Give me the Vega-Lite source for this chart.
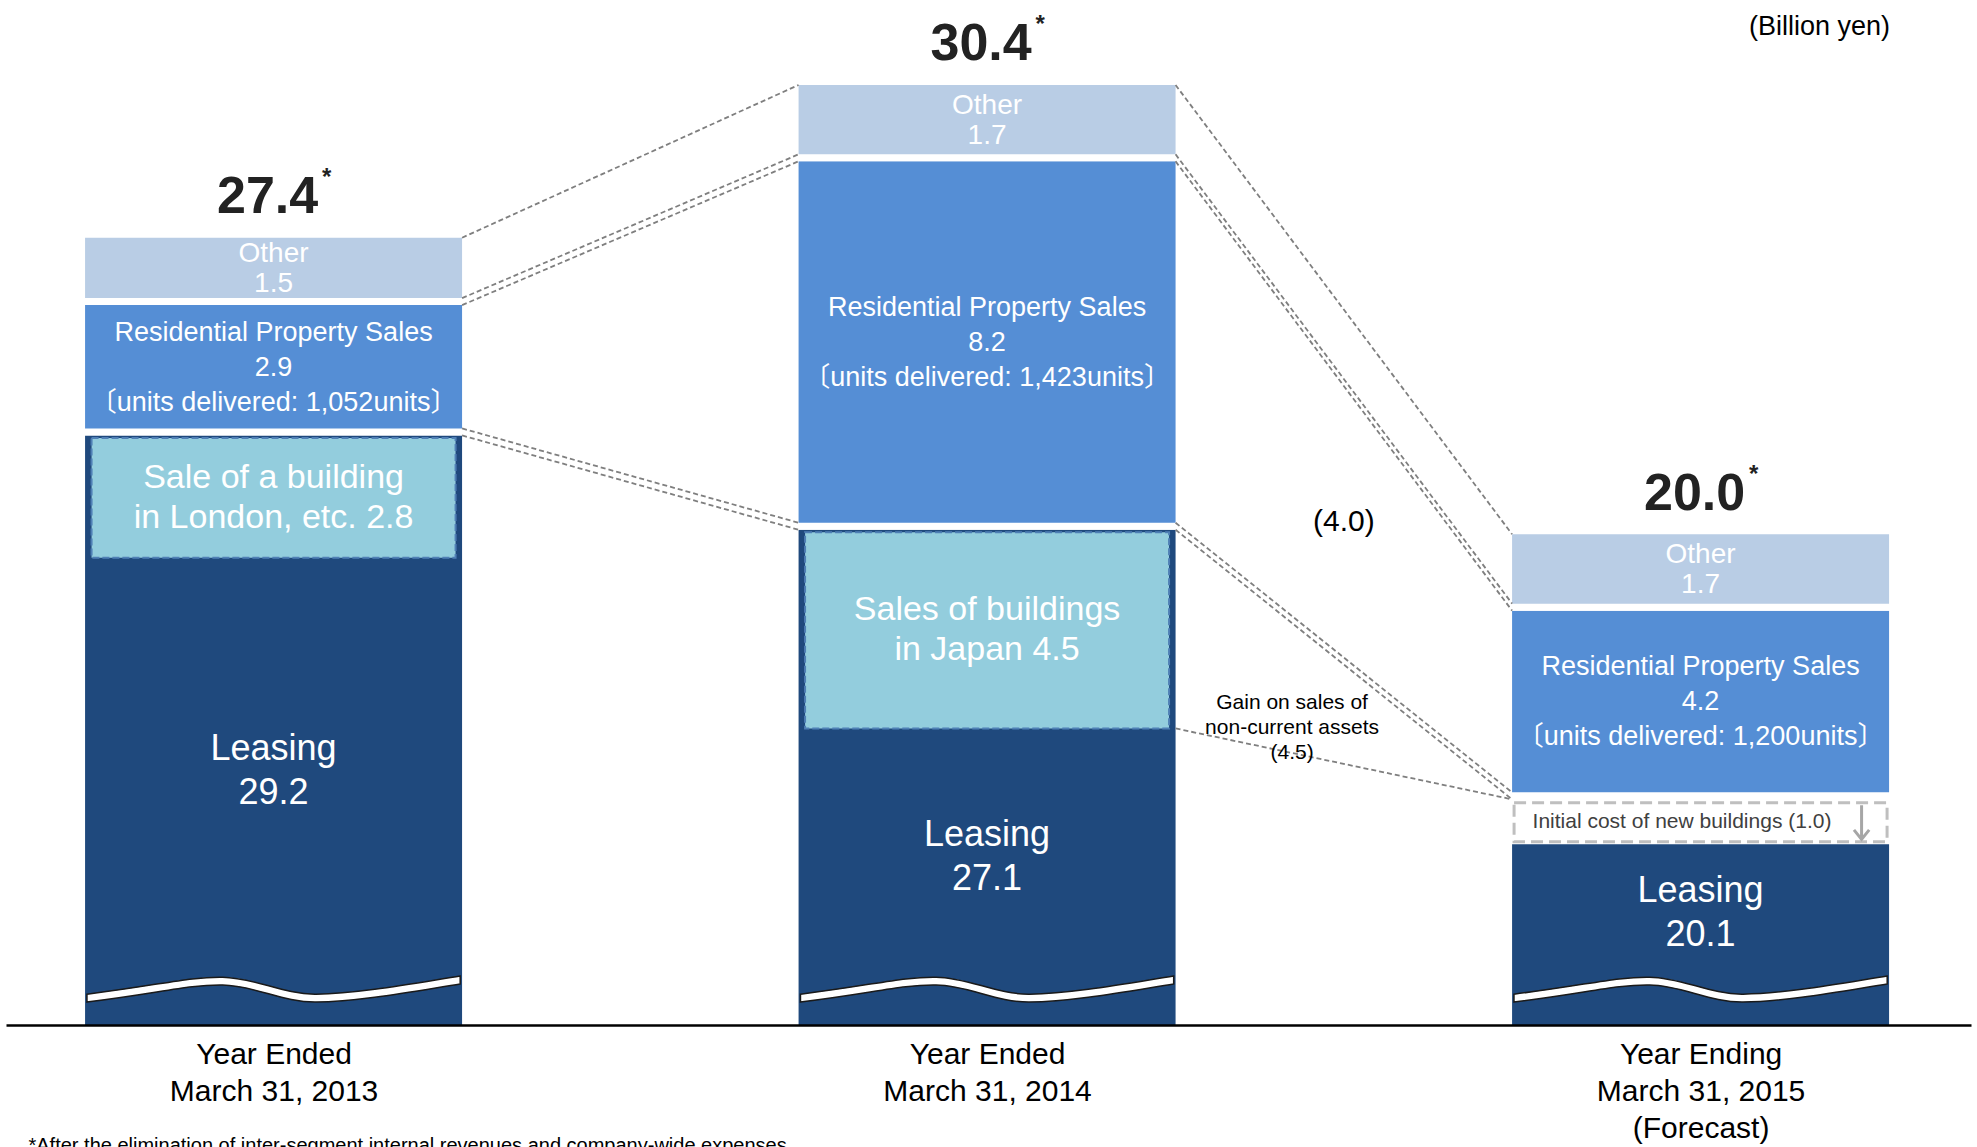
{
  "$schema": "https://vega.github.io/schema/vega-lite/v6.json",
  "width": 1965,
  "height": 975,
  "autosize": {"type": "none"},
  "padding": {"left": 6, "right": 6, "top": 50, "bottom": 122},
  "background": "white",
  "config": {
    "view": {"stroke": null},
    "font": "Liberation Sans",
    "text": {"font": "Liberation Sans, Noto Sans CJK JP"}
  },
  "title": {
    "text": "(Billion yen)",
    "orient": "top",
    "anchor": "end",
    "font": "Liberation Sans",
    "fontSize": 27,
    "fontWeight": "normal",
    "color": "#000000",
    "dx": -81,
    "dy": 40,
    "offset": 12
  },
  "datasets": {
    "segments": [
      {"fy": 2013, "segment": "Leasing", "value": 29.2, "building_sales": 2.8, "building_label": "Sale of a building\nin London, etc."},
      {"fy": 2013, "segment": "Residential Property Sales", "value": 2.9, "units": 1052},
      {"fy": 2013, "segment": "Other", "value": 1.5},
      {"fy": 2014, "segment": "Leasing", "value": 27.1, "building_sales": 4.5, "building_label": "Sales of buildings\nin Japan"},
      {"fy": 2014, "segment": "Residential Property Sales", "value": 8.2, "units": 1423},
      {"fy": 2014, "segment": "Other", "value": 1.7},
      {"fy": 2015, "segment": "Leasing", "value": 20.1},
      {"fy": 2015, "segment": "Initial cost of new buildings", "value": 1.0},
      {"fy": 2015, "segment": "Residential Property Sales", "value": 4.2, "units": 1200},
      {"fy": 2015, "segment": "Other", "value": 1.7}
    ],
    "totals": [
      {"fy": 2013, "total": 27.4},
      {"fy": 2014, "total": 30.4},
      {"fy": 2015, "total": 20.0}
    ]
  },
  "data": {"name": "segments"},
  "transform": [
    {"calculate": "indexof(['Leasing', 'Initial cost of new buildings', 'Residential Property Sales', 'Other'], datum.segment)", "as": "rank"},
    {"window": [{"op": "sum", "field": "value", "as": "top"}], "groupby": ["fy"], "sort": [{"field": "rank"}], "frame": [null, 0]},
    {"calculate": "datum.top - datum.value", "as": "bottom"},
    {"calculate": "(datum.top + datum.bottom) / 2", "as": "mid"}
  ],
  "encoding": {
    "x": {
      "field": "fy",
      "type": "quantitative",
      "scale": {"domain": [2012.632, 2015.372], "nice": false, "zero": false},
      "axis": {
        "values": [2013, 2014, 2015],
        "labelExpr": "datum.value === 2015 ? ['Year Ending', 'March 31, 2015', '(Forecast)'] : ['Year Ended', 'March 31, ' + datum.value]",
        "ticks": false,
        "grid": false,
        "zindex": 1,
        "domainColor": "#000000",
        "domainWidth": 2.5,
        "labelFont": "Liberation Sans",
        "labelFontSize": 30,
        "labelColor": "#000000",
        "labelLineHeight": 37,
        "labelPadding": 14,
        "labelBaseline": "top",
        "labelLimit": 0,
        "labelOverlap": false,
        "labelBound": false,
        "labelFlush": false,
        "title": "*After the elimination of inter-segment internal revenues and company-wide expenses",
        "titleFont": "Liberation Sans",
        "titleFontSize": 20,
        "titleFontWeight": "normal",
        "titleColor": "#000000",
        "titleAlign": "left",
        "titleAnchor": "start",
        "titleBaseline": "top",
        "titleLimit": 0,
        "titleX": 22,
        "titleY": 110
      }
    }
  },
  "layer": [
    {
      "transform": [{"filter": "datum.segment !== 'Initial cost of new buildings'"}],
      "mark": {"type": "bar", "size": 384, "stroke": "white", "strokeWidth": 7, "clip": true},
      "encoding": {
        "y": {"field": "top", "type": "quantitative", "scale": {"domain": [16, 37.7], "nice": false, "zero": false}, "axis": null},
        "y2": {"field": "bottom"},
        "color": {
          "field": "segment",
          "type": "nominal",
          "scale": {"domain": ["Other", "Residential Property Sales", "Leasing"], "range": ["#B9CDE5", "#558ED5", "#1F497D"]},
          "legend": null
        }
      }
    },
    {
      "transform": [{"filter": "datum.segment === 'Initial cost of new buildings'"}],
      "mark": {"type": "bar", "size": 373, "fill": "white", "stroke": "#BFBFBF", "strokeWidth": 3, "strokeDash": [12, 6], "yOffset": 7, "y2Offset": 1},
      "encoding": {
        "y": {"field": "top", "type": "quantitative", "scale": {"domain": [16, 37.7], "nice": false, "zero": false}, "axis": null},
        "y2": {"field": "bottom"}
      }
    },
    {
      "transform": [
        {"filter": "isValid(datum.building_sales)"},
        {"calculate": "datum.top - datum.building_sales", "as": "sales_bottom"}
      ],
      "mark": {"type": "bar", "size": 364, "fill": "#93CDDD", "stroke": "#4F7FB5", "strokeWidth": 2, "strokeDash": [7, 3], "yOffset": 6},
      "encoding": {
        "y": {"field": "top", "type": "quantitative", "scale": {"domain": [16, 37.7], "nice": false, "zero": false}, "axis": null},
        "y2": {"field": "sales_bottom"}
      }
    },
    {
      "transform": [{"filter": "datum.segment === 'Leasing'"}],
      "mark": {
        "type": "point",
        "shape": "M -0.99 0.027 C -0.6 -0.021 -0.45 -0.066 -0.27 -0.063 C -0.1 -0.061 0.05 0.029 0.225 0.027 C 0.45 0.025 0.75 -0.031 0.99 -0.069 L 0.99 -0.027 C 0.75 0.011 0.45 0.067 0.225 0.069 C 0.05 0.071 -0.1 -0.019 -0.27 -0.021 C -0.45 -0.024 -0.6 0.021 -0.99 0.069 Z",
        "size": 142129,
        "filled": true,
        "fill": "white",
        "stroke": "#1a1a1a",
        "strokeWidth": 1.5,
        "opacity": 1
      },
      "encoding": {
        "y": {"datum": 16.8, "type": "quantitative", "scale": {"domain": [16, 37.7], "nice": false, "zero": false}, "axis": null}
      }
    },
    {
      "transform": [
        {"filter": "datum.segment === 'Residential Property Sales' || datum.segment === 'Other'"},
        {
          "window": [
            {"op": "lead", "field": "top", "as": "next_top"},
            {"op": "lead", "field": "bottom", "as": "next_bottom"},
            {"op": "lead", "field": "fy", "as": "next_fy"},
            {"op": "lead", "field": "value", "as": "next_value"}
          ],
          "groupby": ["segment"],
          "sort": [{"field": "fy"}]
        },
        {"filter": "isValid(datum.next_fy)"}
      ],
      "layer": [
        {
          "transform": [{"filter": "datum.segment === 'Other'"}],
          "mark": {"type": "rule", "color": "#7F7F7F", "strokeWidth": 1.8, "strokeDash": [5, 3], "xOffset": 188.5, "x2Offset": -188.5, "yOffset": 3.5, "y2Offset": 3.5},
          "encoding": {
            "x2": {"field": "next_fy"},
            "y": {"field": "top", "type": "quantitative", "scale": {"domain": [16, 37.7], "nice": false, "zero": false}, "axis": null},
            "y2": {"field": "next_top"}
          }
        },
        {
          "mark": {"type": "rule", "color": "#7F7F7F", "strokeWidth": 1.8, "strokeDash": [5, 3], "xOffset": 188.5, "x2Offset": -188.5, "yOffset": -3.5, "y2Offset": -3.5},
          "encoding": {
            "x2": {"field": "next_fy"},
            "y": {"field": "bottom", "type": "quantitative", "scale": {"domain": [16, 37.7], "nice": false, "zero": false}, "axis": null},
            "y2": {"field": "next_bottom"}
          }
        },
        {
          "mark": {"type": "rule", "color": "#7F7F7F", "strokeWidth": 1.8, "strokeDash": [5, 3], "xOffset": 188.5, "x2Offset": -188.5, "yOffset": 3.5, "y2Offset": 3.5},
          "encoding": {
            "x2": {"field": "next_fy"},
            "y": {"field": "bottom", "type": "quantitative", "scale": {"domain": [16, 37.7], "nice": false, "zero": false}, "axis": null},
            "y2": {"field": "next_bottom"}
          }
        },
        {
          "transform": [
            {"filter": "datum.segment === 'Residential Property Sales' && datum.next_value < datum.value"},
            {"calculate": "(datum.fy + datum.next_fy) / 2", "as": "mid_fy"},
            {"calculate": "(datum.top + datum.bottom + datum.next_top + datum.next_bottom) / 4", "as": "mid_y"},
            {"calculate": "'(' + format(datum.value - datum.next_value, '.1f') + ')'", "as": "change_label"}
          ],
          "mark": {"type": "text", "fontSize": 30, "color": "#000000", "baseline": "middle", "align": "center"},
          "encoding": {
            "x": {"field": "mid_fy", "type": "quantitative"},
            "y": {"field": "mid_y", "type": "quantitative", "scale": {"domain": [16, 37.7], "nice": false, "zero": false}, "axis": null},
            "text": {"field": "change_label"}
          }
        }
      ]
    },
    {
      "transform": [
        {"calculate": "datum.segment === 'Residential Property Sales' ? datum.bottom : null", "as": "res_b"},
        {"joinaggregate": [{"op": "max", "field": "res_b", "as": "res_bottom"}], "groupby": ["fy"]},
        {"filter": "datum.segment === 'Leasing'"},
        {
          "window": [
            {"op": "lead", "field": "fy", "as": "next_fy"},
            {"op": "lead", "field": "res_bottom", "as": "next_res_bottom"},
            {"op": "lead", "field": "building_sales", "as": "next_sales"}
          ],
          "sort": [{"field": "fy"}]
        },
        {"filter": "isValid(datum.building_sales) && isValid(datum.next_fy) && !isValid(datum.next_sales)"},
        {"calculate": "datum.top - datum.building_sales", "as": "sales_bottom"}
      ],
      "layer": [
        {
          "mark": {"type": "rule", "color": "#7F7F7F", "strokeWidth": 1.8, "strokeDash": [5, 3], "xOffset": 188.5, "x2Offset": -188.5, "y2Offset": 3.5},
          "encoding": {
            "x2": {"field": "next_fy"},
            "y": {"field": "sales_bottom", "type": "quantitative", "scale": {"domain": [16, 37.7], "nice": false, "zero": false}, "axis": null},
            "y2": {"field": "next_res_bottom"}
          }
        },
        {
          "transform": [
            {"calculate": "['Gain on sales of', 'non-current assets', '(' + format(datum.building_sales, '.1f') + ')']", "as": "gain_label"}
          ],
          "mark": {"type": "text", "fontSize": 21, "lineHeight": 25, "dx": 305, "dy": -25, "baseline": "middle", "align": "center", "color": "#000000"},
          "encoding": {
            "y": {"field": "sales_bottom", "type": "quantitative", "scale": {"domain": [16, 37.7], "nice": false, "zero": false}, "axis": null},
            "text": {"field": "gain_label"}
          }
        }
      ]
    },
    {
      "transform": [
        {"filter": "datum.segment === 'Other'"},
        {"calculate": "['Other', format(datum.value, '.1f')]", "as": "label"}
      ],
      "mark": {"type": "text", "fontSize": 28, "lineHeight": 30, "color": "white", "baseline": "middle", "align": "center", "dy": -14},
      "encoding": {
        "y": {"field": "mid", "type": "quantitative", "scale": {"domain": [16, 37.7], "nice": false, "zero": false}, "axis": null},
        "text": {"field": "label"}
      }
    },
    {
      "transform": [
        {"filter": "datum.segment === 'Residential Property Sales'"},
        {"calculate": "[datum.segment, format(datum.value, '.1f'), '〔units delivered: ' + format(datum.units, ',') + 'units〕']", "as": "label"}
      ],
      "mark": {"type": "text", "fontSize": 27, "lineHeight": 35, "color": "white", "baseline": "middle", "align": "center", "dy": -34},
      "encoding": {
        "y": {"field": "mid", "type": "quantitative", "scale": {"domain": [16, 37.7], "nice": false, "zero": false}, "axis": null},
        "text": {"field": "label"}
      }
    },
    {
      "transform": [
        {"filter": "datum.segment === 'Leasing'"},
        {"calculate": "(datum.top - (isValid(datum.building_sales) ? datum.building_sales : 0) + 16.8) / 2", "as": "label_y"},
        {"calculate": "['Leasing', format(datum.value, '.1f')]", "as": "label"}
      ],
      "mark": {"type": "text", "fontSize": 36, "lineHeight": 44, "color": "white", "baseline": "middle", "align": "center", "dy": -24},
      "encoding": {
        "y": {"field": "label_y", "type": "quantitative", "scale": {"domain": [16, 37.7], "nice": false, "zero": false}, "axis": null},
        "text": {"field": "label"}
      }
    },
    {
      "transform": [
        {"filter": "isValid(datum.building_sales)"},
        {"calculate": "datum.top - datum.building_sales / 2", "as": "box_mid"},
        {"calculate": "datum.building_label + ' ' + format(datum.building_sales, '.1f')", "as": "label"}
      ],
      "mark": {"type": "text", "fontSize": 34, "lineHeight": 40, "lineBreak": "\n", "color": "white", "baseline": "middle", "align": "center", "dy": -17},
      "encoding": {
        "y": {"field": "box_mid", "type": "quantitative", "scale": {"domain": [16, 37.7], "nice": false, "zero": false}, "axis": null},
        "text": {"field": "label"}
      }
    },
    {
      "transform": [
        {"filter": "datum.segment === 'Initial cost of new buildings'"},
        {"calculate": "datum.segment + ' (' + format(datum.value, '.1f') + ')'", "as": "label"}
      ],
      "mark": {"type": "text", "fontSize": 21, "color": "#404040", "baseline": "middle", "align": "left", "dx": -168, "dy": 4},
      "encoding": {
        "y": {"field": "mid", "type": "quantitative", "scale": {"domain": [16, 37.7], "nice": false, "zero": false}, "axis": null},
        "text": {"field": "label"}
      }
    },
    {
      "transform": [{"filter": "datum.segment === 'Initial cost of new buildings'"}],
      "mark": {
        "type": "point",
        "shape": "M 0 -0.9 L 0 0.9 M -0.4 0.4 L 0 0.9 L 0.4 0.4",
        "size": 1444,
        "filled": false,
        "stroke": "#A6A6A6",
        "strokeWidth": 3,
        "opacity": 1,
        "xOffset": 161,
        "yOffset": 4
      },
      "encoding": {
        "y": {"field": "mid", "type": "quantitative", "scale": {"domain": [16, 37.7], "nice": false, "zero": false}, "axis": null}
      }
    },
    {
      "transform": [
        {"filter": "datum.segment === 'Other'"},
        {"lookup": "fy", "from": {"data": {"name": "totals"}, "key": "fy", "fields": ["total"]}},
        {"calculate": "format(datum.total, '.1f')", "as": "total_label"}
      ],
      "layer": [
        {
          "mark": {"type": "text", "font": "Liberation Sans", "fontSize": 52, "fontWeight": "bold", "color": "#222222", "baseline": "alphabetic", "align": "center", "dx": -6, "dy": -21},
          "encoding": {
            "y": {"field": "top", "type": "quantitative", "scale": {"domain": [16, 37.7], "nice": false, "zero": false}, "axis": null},
            "text": {"field": "total_label"}
          }
        },
        {
          "mark": {"type": "text", "font": "Liberation Sans", "fontSize": 24, "fontWeight": "bold", "color": "#222222", "baseline": "alphabetic", "align": "center", "dx": 53, "dy": -49, "text": "*"},
          "encoding": {
            "y": {"field": "top", "type": "quantitative", "scale": {"domain": [16, 37.7], "nice": false, "zero": false}, "axis": null}
          }
        }
      ]
    }
  ]
}
